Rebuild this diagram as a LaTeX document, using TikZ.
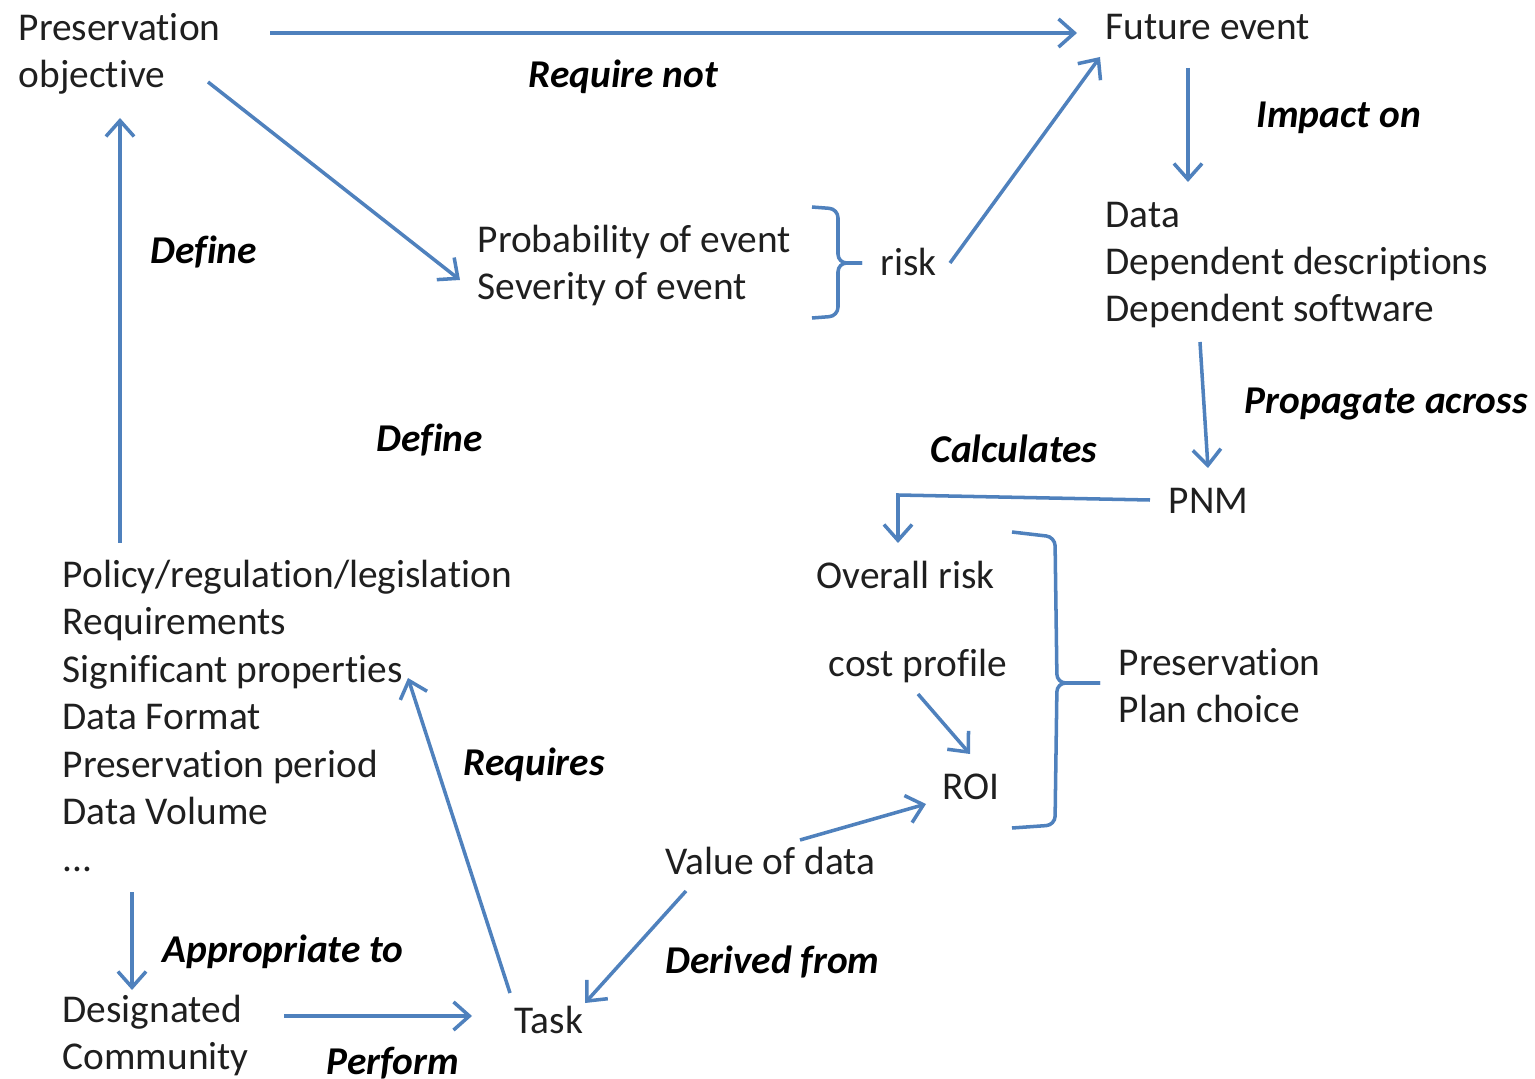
\documentclass[tikz,border=0pt]{standalone}
\usepackage{fontspec}
\setmainfont{Carlito}[Ligatures=NoCommon]
\usetikzlibrary{calc,arrows.meta}

\definecolor{linkblue}{HTML}{4F81BD}
\tikzset{
  txt/.style={anchor=base west,inner sep=0pt,align=left,text=black!88,font=\fontsize{11.2}{13.5}\selectfont},
  lbl/.style={txt,text=black,font=\fontsize{11.2}{13.5}\selectfont\bfseries\itshape},
  arr/.style={->,>={Straight Barb[length=4.5pt,width=8pt]},linkblue,line width=1pt},
  brc/.style={linkblue,line width=1pt,rounded corners=2.5pt}
}

\begin{document}
\begin{tikzpicture}[x=0.01cm,y=-0.01cm]
        \useasboundingbox (0,0) rectangle (1535,1079);

        % concepts (multi-line nodes sit on their last line)
        \node[txt] (po)   at (18,88)    {Preservation\\objective};
        \node[txt] (fe)   at (1105,40)  {Future event};
        \node[txt] (dat)  at (1105,322) {Data\\Dependent descriptions\\Dependent software};
        \node[txt] (prob) at (477,300)  {Probability of event\\Severity of event};
        \node[txt] (risk) at (880,276)  {risk};
        \node[txt] (pnm)  at (1168,514) {PNM};
        \node[txt] (pol)  at (62,872)   {Policy/regulation/legislation\\Requirements\\Significant properties\\Data Format\\Preservation period\\Data Volume\\...};
        \node[txt] (ovr)  at (816,589)  {Overall risk};
        \node[txt] (cost) at (828,677)  {cost profile};
        \node[txt] (roi)  at (942,800)  {ROI};
        \node[txt] (ppc)  at (1118,723) {Preservation\\Plan choice};
        \node[txt] (val)  at (665,874)  {Value of data};
        \node[txt] (dc)   at (62,1070)  {Designated\\Community};
        \node[txt] (task) at (514,1034) {Task};

        % relations
        \node[lbl] (reqnot) at (528,88)   {Require not};
        \node[lbl] (impact) at (1256,128) {Impact on};
        \node[lbl] (defa)   at (150,264)  {Define};
        \node[lbl] (defb)   at (376,452)  {Define};
        \node[lbl] (prop)   at (1244,414) {Propagate across};
        \node[lbl] (calcs)  at (930,463)  {Calculates};
        \node[lbl] (reqs)   at (463,776)  {Requires};
        \node[lbl] (appr)   at (162,962)  {Appropriate to};
        \node[lbl] (deriv)  at (665,974)  {Derived from};
        \node[lbl] (perf)   at (326,1074) {Perform};

        % objective to future event
        \draw[arr] ($(po.base west)+(252,-55)$) -- ($(fe.base west)+(-28,-7)$);

        % objective to probability/severity
        \draw[arr] ($(po.base west)+(190,-6)$) -- ($(prob.base west)+(-17,-20)$);

        % risk to future event
        \draw[arr] ($(risk.base west)+(70,-13)$) -- ($(fe.base west)+(-5,17)$);

        % future event to data
        \draw[arr] ($(fe.base west)+(83,28)$) -- ($(dat.base west)+(83,-140)$);

        % data to PNM
        \draw[arr] ($(dat.base west)+(95,20)$) -- ($(pnm.base west)+(40,-46)$);

        % PNM to overall risk
        \draw[arr] ($(pnm.base west)+(-18,-14)$) -- ($(ovr.base west)+(82,-94)$) -- ($(ovr.base west)+(82,-46)$);

        % policy to objective
        \draw[arr] ($(pol.base west)+(58,-329)$) -- ($(po.base west)+(102,30)$);

        % task to significant properties
        \draw[arr] ($(task.base west)+(-4,-41)$) -- ($(pol.base west)+(346,-194)$);

        % policy to designated community
        \draw[arr] ($(pol.base west)+(70,20)$) -- ($(dc.base west)+(70,-80)$);

        % designated community to task
        \draw[arr] ($(dc.base west)+(222,-54)$) -- ($(task.base west)+(-42,-18)$);

        % value of data to task
        \draw[arr] ($(val.base west)+(21,17)$) -- ($(task.base west)+(71,-31)$);

        % value of data to ROI
        \draw[arr] ($(val.base west)+(135,-34)$) -- ($(roi.base west)+(-16,4)$);

        % cost profile to ROI
        \draw[arr] ($(cost.base west)+(90,17)$) -- ($(roi.base west)+(28,-46)$);

        % braces
        \draw[brc] (812,207) -- (838,209) -- (838,263) -- (862,263);
        \draw[brc] (812,318) -- (838,316) -- (838,263) -- (862,263);
        \draw[brc] (1012,532) -- (1055,537) -- (1057,683) -- (1100,683);
        \draw[brc] (1012,828) -- (1055,825) -- (1057,683) -- (1100,683);

      \end{tikzpicture}
\end{document}
